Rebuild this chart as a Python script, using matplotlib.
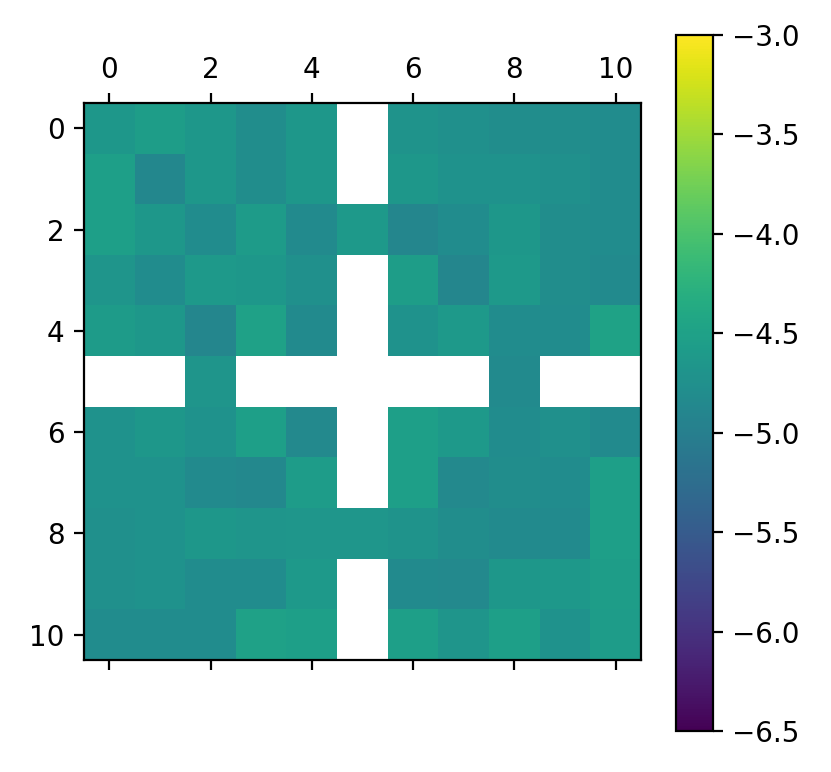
import numpy as np
import matplotlib
matplotlib.use("Agg")
import matplotlib.pyplot as plt

nan = np.nan
row0 = [-4.65, -4.55, -4.65, -4.78, -4.65, nan, -4.70, -4.75, -4.78, -4.78, -4.80]
row1 = [-4.52, -4.88, -4.65, -4.78, -4.65, nan, -4.65, -4.72, -4.72, -4.75, -4.80]
row2 = [-4.52, -4.65, -4.80, -4.58, -4.82, -4.60, -4.90, -4.80, -4.65, -4.78, -4.80]
row3 = [-4.68, -4.80, -4.62, -4.65, -4.75, nan, -4.55, -4.90, -4.60, -4.78, -4.82]
row4 = [-4.58, -4.65, -4.90, -4.50, -4.82, nan, -4.72, -4.62, -4.80, -4.80, -4.48]
row5 = [nan, nan, -4.68, nan, nan, nan, nan, nan, -4.82, nan, nan]
row6 = [-4.72, -4.65, -4.72, -4.52, -4.85, nan, -4.52, -4.62, -4.80, -4.75, -4.82]
row7 = [-4.72, -4.72, -4.82, -4.86, -4.56, nan, -4.52, -4.85, -4.78, -4.80, -4.52]
row8 = [-4.75, -4.72, -4.65, -4.67, -4.66, -4.66, -4.70, -4.78, -4.82, -4.82, -4.52]
row9 = [-4.74, -4.72, -4.80, -4.80, -4.62, nan, -4.82, -4.85, -4.65, -4.63, -4.55]
row10 = [-4.80, -4.80, -4.80, -4.50, -4.52, nan, -4.52, -4.68, -4.52, -4.72, -4.56]

data = np.array([row0, row1, row2, row3, row4, row5, row6, row7, row8, row9, row10])
vmin, vmax = -6.5, -3.0

W, H = 831, 772
fig = plt.figure(figsize=(W / 200, H / 200), dpi=200)
ax = fig.add_axes([84 / W, (H - 660) / H, 557 / W, 557 / H])
im = ax.matshow(data, cmap="viridis", vmin=vmin, vmax=vmax)
ax.set_xticks(range(0, 11, 2))
ax.set_yticks(range(0, 11, 2))

cax = fig.add_axes([676 / W, (H - 731) / H, 37 / W, 696 / H])
cb = fig.colorbar(im, cax=cax)
cb.set_ticks(np.arange(-6.5, -2.9, 0.5))

fig.savefig("out.png", dpi=200)
